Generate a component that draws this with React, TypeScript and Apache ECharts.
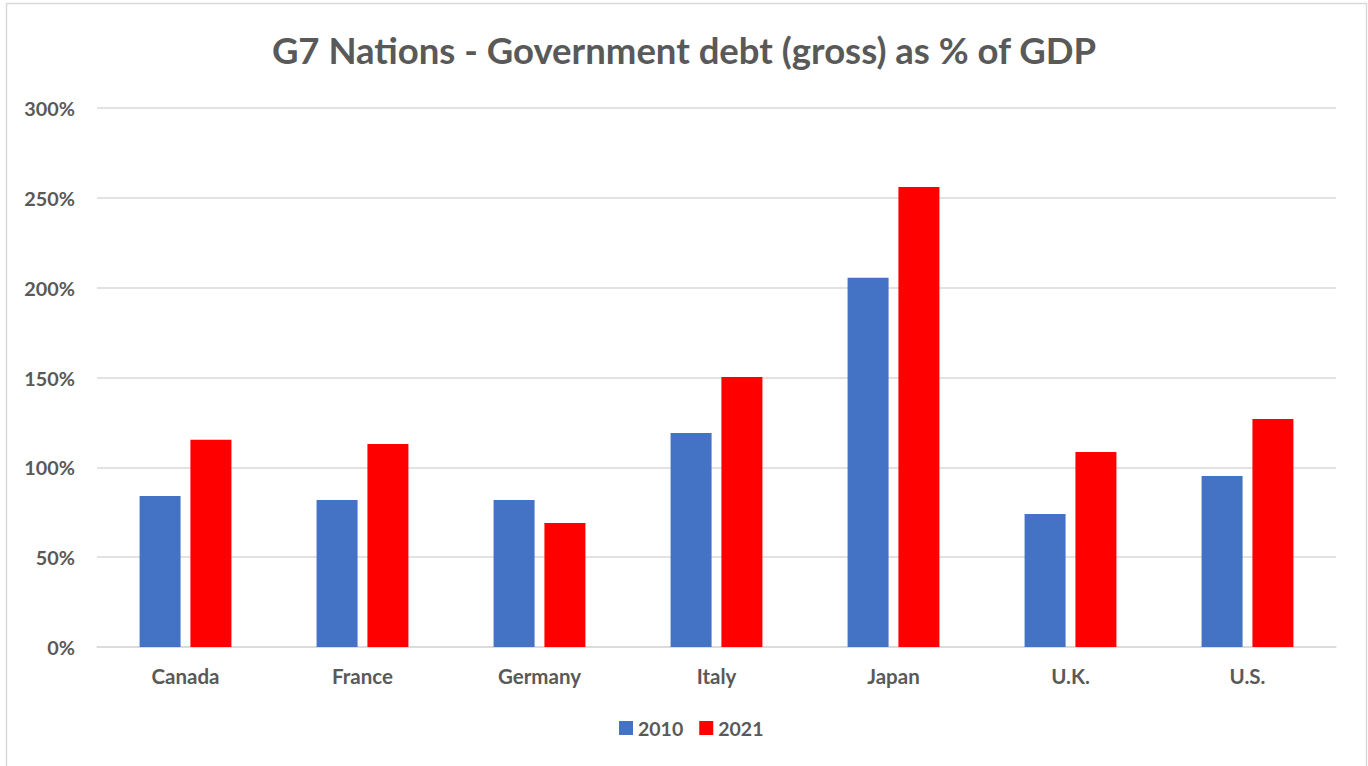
import React, { useEffect, useRef } from "react";
import * as echarts from "echarts";

const categories = ["Canada", "France", "Germany", "Italy", "Japan", "U.K.", "U.S."];
const debt2010 = [84, 81.8, 81.8, 119.1, 205.5, 74, 95.2];
const debt2021 = [115.3, 113, 69, 150.3, 256, 108.5, 126.9];
const yTicks = { min: 0, max: 300, interval: 50 };

const FONT = "Lato, 'Noto Sans', sans-serif";
const TXT = "#595959";

export default function App() {
  const ref = useRef<HTMLDivElement>(null);
  useEffect(() => {
    document.body.style.margin = "0";
    const chart = echarts.init(ref.current!, null, { renderer: "svg" });
    chart.setOption({
      animation: false,
      backgroundColor: "#ffffff",
      title: {
        text: "G7 Nations - Government debt (gross) as % of GDP",
        left: "center",
        top: 26,
        textStyle: { fontFamily: FONT, fontSize: 36.5, fontWeight: "bold", color: TXT },
      },
      graphic: [
        {
          type: "rect",
          shape: { x: 6.5, y: 3.5, width: 1360, height: 800 },
          style: { fill: "none", stroke: "#d9d9d9", lineWidth: 1.5 },
          silent: true,
        },
      ],
      legend: {
        bottom: 23,
        left: 614,
        itemWidth: 14,
        itemHeight: 14,
        itemGap: 16,
        icon: "rect",
        textStyle: { fontFamily: FONT, fontSize: 19.5, fontWeight: "bold", color: TXT },
        data: ["2010", "2021"],
      },
      grid: { left: 97, right: 32, top: 108, bottom: 119, containLabel: false },
      xAxis: {
        type: "category",
        data: categories,
        axisLine: { lineStyle: { color: "#d9d9d9", width: 1.5 } },
        axisTick: { show: false },
        axisLabel: {
          fontFamily: FONT,
          fontSize: 20.5,
          fontWeight: "bold",
          color: TXT,
          margin: 18,
        },
      },
      yAxis: {
        type: "value",
        min: yTicks.min,
        max: yTicks.max,
        interval: yTicks.interval,
        axisLine: { show: false },
        axisTick: { show: false },
        splitLine: { lineStyle: { color: "#d9d9d9", width: 1.5 } },
        axisLabel: {
          formatter: "{value}%",
          fontFamily: FONT,
          fontSize: 19.8,
          fontWeight: "bold",
          color: TXT,
          margin: 22,
        },
      },
      series: [
        {
          name: "2010",
          type: "bar",
          data: debt2010,
          barWidth: 41,
          barGap: "24%",
          itemStyle: { color: "#4472C4" },
        },
        {
          name: "2021",
          type: "bar",
          data: debt2021,
          barWidth: 41,
          itemStyle: { color: "#FF0000" },
        },
      ],
    });
    return () => chart.dispose();
  }, []);
  return <div ref={ref} style={{ width: 1368, height: 766 }} />;
}
